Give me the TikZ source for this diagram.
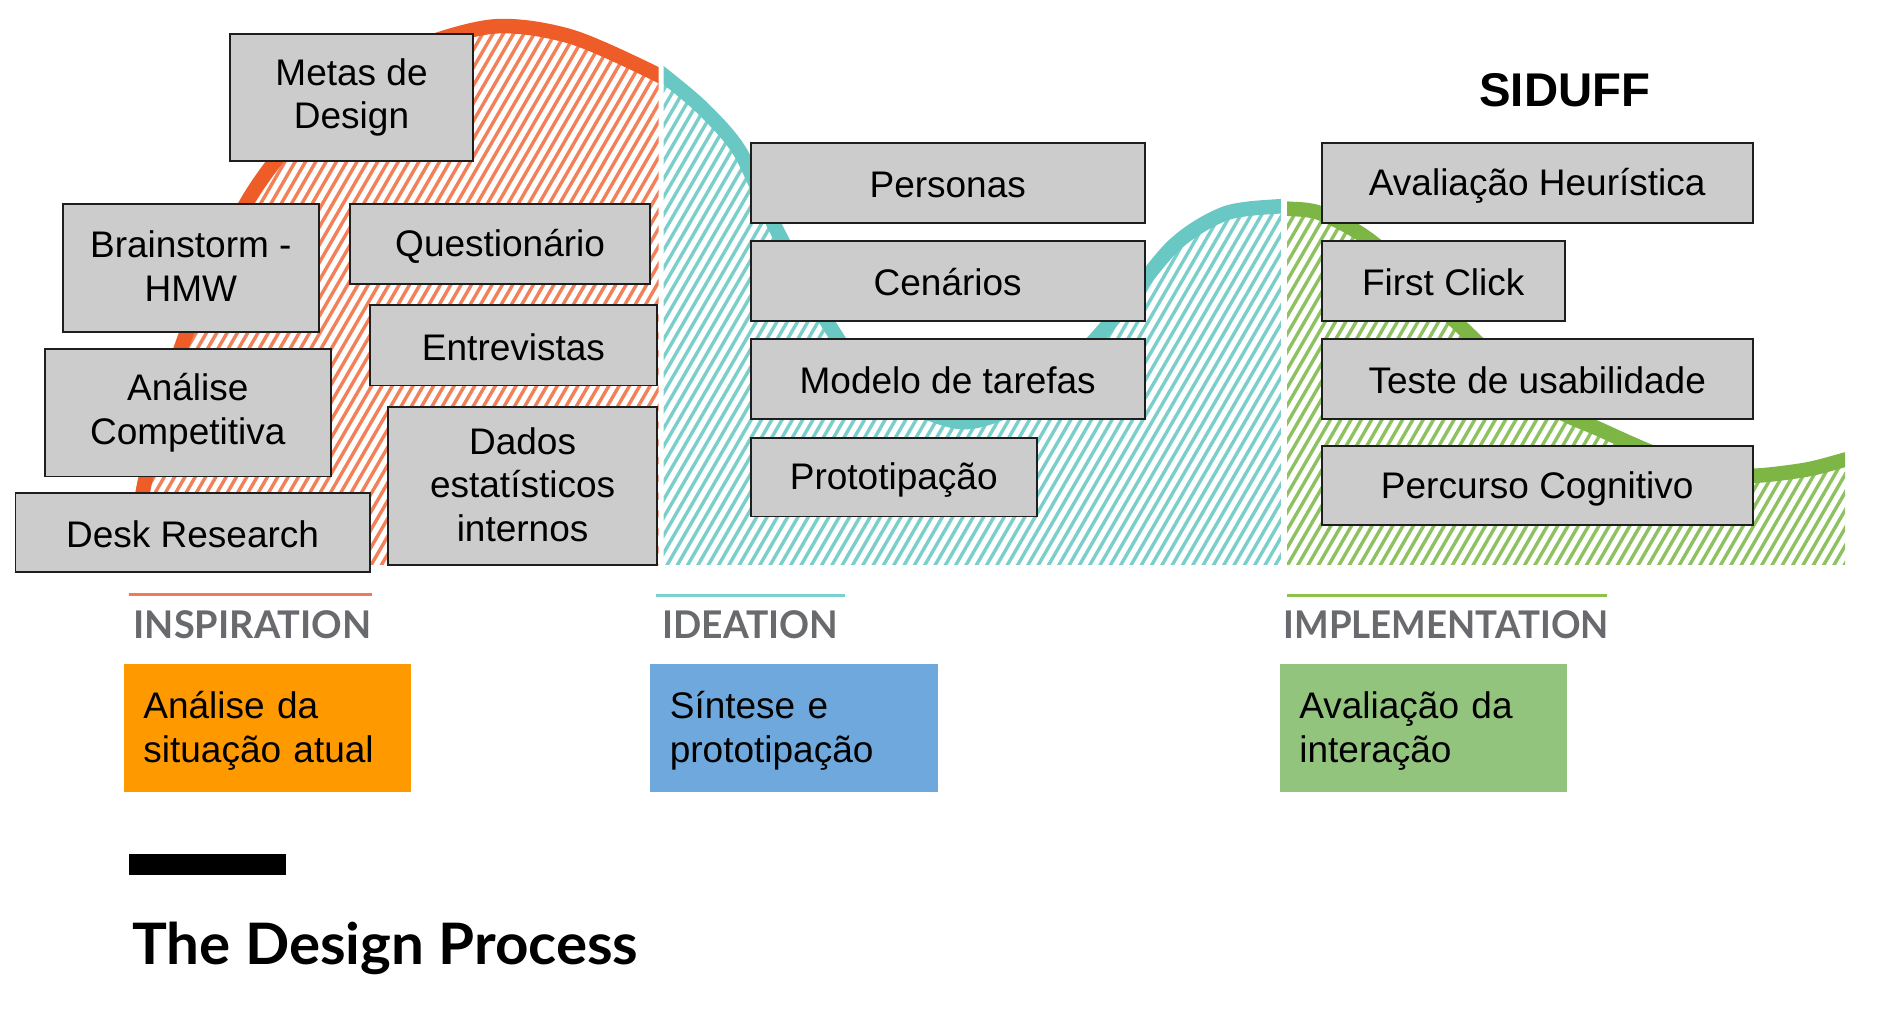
\documentclass[tikz,border=0pt]{standalone}
\usepackage{fontspec}
\usepackage{graphicx}
\setmainfont{Liberation Sans}
\newfontfamily\latofont{Lato}
\definecolor{orS}{RGB}{238,93,40}
\definecolor{orH}{RGB}{242,128,88}
\definecolor{teS}{RGB}{106,200,196}
\definecolor{teH}{RGB}{122,207,203}
\definecolor{grS}{RGB}{125,182,68}
\definecolor{grH}{RGB}{142,193,96}
\definecolor{boxfill}{RGB}{204,204,204}
\definecolor{boxline}{RGB}{30,30,30}
\definecolor{labgray}{RGB}{105,106,110}
\definecolor{orL}{RGB}{242,122,88}
\definecolor{teL}{RGB}{122,208,206}
\definecolor{grL}{RGB}{139,195,74}
\definecolor{orBox}{RGB}{255,153,0}
\definecolor{blBox}{RGB}{111,168,220}
\definecolor{grBox}{RGB}{147,196,125}
\newcommand\mystrut{\rule[-3pt]{0pt}{30pt}}
\begin{document}
\begin{tikzpicture}[x=1pt,y=-1pt,
  gbox/.style={draw=boxline, line width=1.6pt, fill=boxfill, inner sep=0pt,
    align=center, anchor=north west, font=\fontsize{30.5}{36}\selectfont,
    execute at begin node=\mystrut, execute at end node=\mystrut},
  cbox/.style={inner xsep=16pt, inner ysep=0pt, align=left, anchor=north west,
    text width=205pt, minimum height=106pt, font=\fontsize{30.5}{37}\selectfont,
    execute at begin node=\mystrut, execute at end node=\mystrut},
  hatchline/.style={line width=2.8pt},
  wave/.style={line width=12pt},
  labline/.style={line width=3pt},
  phase/.style={anchor=base west, inner sep=0pt, text=labgray}
]
\fill[white] (0,0) rectangle (1568,845);
\useasboundingbox (0,0) rectangle (1568,845);

% ---------- orange (inspiration) ----------
\begin{scope}
  \clip (0,0) rectangle (543,465);
  \begin{scope}
    \clip plot[smooth] coordinates {(100,520) (112,465) (119,399) (151,282) (204,166) (262,93) (330,45) (405,22) (470,30) (543,62) (560,74)} -- (600,600) -- (0,600) -- cycle;
    \foreach \x in {-300,-291.5,...,600} \draw[hatchline, orH] (\x,470) -- ++(272,-470);
  \end{scope}
  \draw[wave, orS] plot[smooth] coordinates {(100,520) (112,465) (119,399) (151,282) (204,166) (262,93) (330,45) (405,22) (470,30) (543,62) (560,74)};
\end{scope}

% ---------- teal (ideation) ----------
\begin{scope}
  \clip (547,0) rectangle (1056,465);
  \begin{scope}
    \clip plot[smooth] coordinates {(530,50) (547,62) (580,90) (610,125) (639,187) (676,256) (720,315) (793,348) (860,322) (916,265) (967,203) (1010,176) (1056,170) (1070,171)} -- (1100,600) -- (500,600) -- cycle;
    \foreach \x in {250,258.5,...,1100} \draw[hatchline, teH] (\x,470) -- ++(272,-470);
  \end{scope}
  \draw[wave, teS] plot[smooth] coordinates {(530,50) (547,62) (580,90) (610,125) (639,187) (676,256) (720,315) (793,348) (860,322) (916,265) (967,203) (1010,176) (1056,170) (1070,171)};
\end{scope}

% ---------- green (implementation) ----------
\begin{scope}
  \clip (1061,0) rectangle (1521,465);
  \begin{scope}
    \clip plot[smooth] coordinates {(1045,171) (1061,172) (1089,176) (1133,201) (1202,267) (1270,330) (1321,355) (1372,377) (1420,391) (1450,392) (1490,387) (1521,379) (1540,374)} -- (1560,600) -- (1000,600) -- cycle;
    \foreach \x in {770,778.5,...,1560} \draw[hatchline, grH] (\x,470) -- ++(272,-470);
  \end{scope}
  \draw[wave, grS] plot[smooth] coordinates {(1045,171) (1061,172) (1089,176) (1133,201) (1202,267) (1270,330) (1321,355) (1372,377) (1420,391) (1450,392) (1490,387) (1521,379) (1540,374)};
\end{scope}

% ---------- gray boxes ----------
\node[gbox, minimum width=200pt, minimum height=105pt] (metas) at (189,27) {Metas de\\Design};
\node[gbox, minimum width=211pt, minimum height=106pt] (brain) at (51,167) {Brainstorm -\\HMW};
\node[gbox, minimum width=247pt, minimum height=66pt] (quest) at (288,167) {Questionário};
\node[gbox, minimum width=237pt, minimum height=66pt] (entre) at (304,251) {Entrevistas};
\node[gbox, minimum width=236pt, minimum height=105pt] (anali) at (36,287) {Análise\\Competitiva};
\node[gbox, minimum width=292pt, minimum height=65pt] (desk) at (12,406) {Desk Research};
\node[gbox, minimum width=222pt, minimum height=130pt] (dados) at (319,335) {Dados\\estatísticos\\internos};
\node[gbox, minimum width=325pt, minimum height=66pt] (pers) at (618,117) {Personas};
\node[gbox, minimum width=325pt, minimum height=66pt] (cen) at (618,198) {Cenários};
\node[gbox, minimum width=325pt, minimum height=66pt] (mod) at (618,279) {Modelo de tarefas};
\node[gbox, minimum width=236pt, minimum height=65pt] (proto) at (618,360) {Prototipação};
\node[gbox, minimum width=355pt, minimum height=66pt] (aval) at (1089,117) {Avaliação Heurística};
\node[gbox, minimum width=200pt, minimum height=66pt] (first) at (1089,198) {First Click};
\node[gbox, minimum width=355pt, minimum height=66pt] (teste) at (1089,279) {Teste de usabilidade};
\node[gbox, minimum width=355pt, minimum height=65pt] (perc) at (1089,367) {Percurso Cognitivo};

\node[anchor=base, inner sep=0pt, font=\fontsize{39}{44}\selectfont\bfseries] (siduff) at (1290,88) {SIDUFF};

% ---------- phase labels ----------
\coordinate (ol1) at (106,490); \coordinate (ol2) at (307,490);
\coordinate (tl1) at (541,491); \coordinate (tl2) at (697,491);
\coordinate (gl1) at (1061,491); \coordinate (gl2) at (1325,491);
\draw[labline, orL] (ol1) -- (ol2);
\draw[labline, teL] (tl1) -- (tl2);
\draw[labline, grL] (gl1) -- (gl2);
\node[phase] (insp) at (110,526) {\resizebox{196pt}{23pt}{\latofont\bfseries INSPIRATION}};
\node[phase] (idea) at (546,526) {\resizebox{145pt}{23pt}{\latofont\bfseries IDEATION}};
\node[phase] (impl) at (1058,526) {\resizebox{268pt}{23pt}{\latofont\bfseries IMPLEMENTATION}};

% ---------- coloured boxes ----------
\node[cbox, fill=orBox] (c1) at (102,547) {Análise da\\situação atual};
\node[cbox, fill=blBox] (c2) at (536,547) {Síntese e\\prototipação};
\node[cbox, fill=grBox] (c3) at (1055,547) {Avaliação da\\interação};

% ---------- title ----------
\fill[black] (106,704) rectangle (236,721);
\node[anchor=base west, inner sep=0pt] (title) at (109,795) {\resizebox{417pt}{35pt}{\latofont\bfseries The Design Process}};
\end{tikzpicture}
\end{document}
